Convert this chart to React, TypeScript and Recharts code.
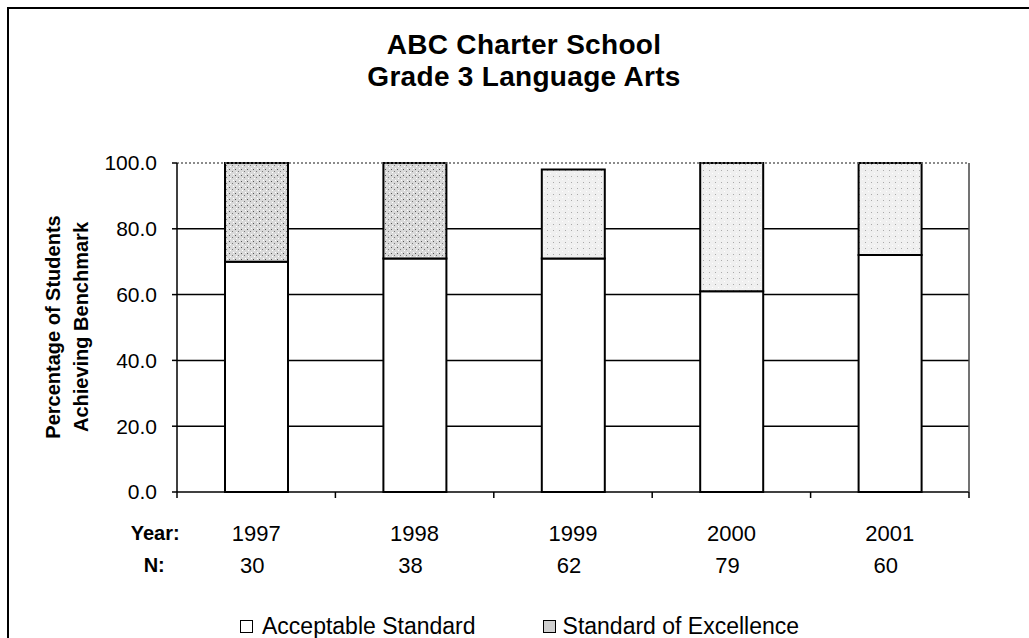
import React from 'react';
import { BarChart, Bar, XAxis, YAxis, CartesianGrid, ReferenceLine, Cell } from 'recharts';

// values
const years = ['1997', '1998', '1999', '2000', '2001'];
const nValues = [30, 38, 62, 79, 60];
const acceptable = [70, 71, 71, 61, 72];
const excellence = [30, 29, 27, 39, 28];
const yTicks = [0, 20, 40, 60, 80, 100];
const gridValues = [20, 40, 60, 80];

const FONT = '"Liberation Sans", Arial, sans-serif';

const data = years.map((year, i) => ({
  year,
  n: nValues[i],
  acceptable: acceptable[i],
  excellence: excellence[i],
}));

const YearTick = (props: any) => {
  const { x, y, payload, index } = props;
  const half = payload && payload.offset ? payload.offset : 79.2;
  const isLast = index === years.length - 1;
  return (
    <g>
      <line x1={x - half} y1={y} x2={x - half} y2={y + 6} stroke="#000" strokeWidth={1.5} />
      {isLast && <line x1={x + half} y1={y} x2={x + half} y2={y + 6} stroke="#000" strokeWidth={1.5} />}
      {index === 0 && (
        <>
          <text x={x - 101} y={y + 41} textAnchor="middle" dominantBaseline="central" fontFamily={FONT} fontWeight="bold" fontSize={20} fill="#000">
            Year:
          </text>
          <text x={x - 102} y={y + 73} textAnchor="middle" dominantBaseline="central" fontFamily={FONT} fontWeight="bold" fontSize={20} fill="#000">
            N:
          </text>
        </>
      )}
      <text x={x} y={y + 41} textAnchor="middle" dominantBaseline="central" fontFamily={FONT} fontSize={22} fill="#000">
        {payload.value}
      </text>
      <text x={x - 4} y={y + 73} textAnchor="middle" dominantBaseline="central" fontFamily={FONT} fontSize={22} fill="#000">
        {nValues[index]}
      </text>
    </g>
  );
};

const App: React.FC = () => {
  return (
    <div style={{ position: 'absolute', left: 0, top: 0, width: 1029, height: 638, background: '#fff', fontFamily: FONT, overflow: 'hidden' }}>
      {/* scanned frame: top and left edges */}
      <div style={{ position: 'absolute', left: 7, top: 7, width: 1022, height: 631, borderTop: '2px solid #000', borderLeft: '2px solid #000' }} />

      <div style={{ position: 'absolute', left: 0, width: 1048, top: 29, textAlign: 'center', fontWeight: 'bold', fontSize: 28, letterSpacing: 0.3, lineHeight: '32px', color: '#000' }}>
        ABC Charter School
        <br />
        Grade 3 Language Arts
      </div>

      <div
        style={{
          position: 'absolute',
          left: 67 - 160,
          top: 327 - 28,
          width: 320,
          height: 56,
          transform: 'rotate(-90deg)',
          textAlign: 'center',
          fontWeight: 'bold',
          fontSize: 20,
          lineHeight: '28px',
          color: '#000',
        }}
      >
        Percentage of Students
        <br />
        Achieving Benchmark
      </div>

      <div style={{ position: 'absolute', left: 0, top: 0 }}>
        <BarChart width={1029} height={638} data={data} margin={{ top: 163, right: 59, bottom: 106, left: 107 }}>
          <defs>
            <pattern id="dense" width="6" height="6" patternUnits="userSpaceOnUse">
              <rect width="6" height="6" fill="#d9d9d9" />
              <rect x="1" y="1" width="1" height="1" fill="#555" />
              <rect x="4" y="3" width="1" height="1" fill="#777" />
              <rect x="2" y="4" width="1" height="1" fill="#fff" />
              <rect x="5" y="0" width="1" height="1" fill="#fff" />
            </pattern>
            <pattern id="light" width="6" height="6" patternUnits="userSpaceOnUse">
              <rect width="6" height="6" fill="#f0f0f0" />
              <rect x="1" y="2" width="1" height="1" fill="#aaa" />
              <rect x="4" y="5" width="1" height="1" fill="#fff" />
            </pattern>
          </defs>
          <CartesianGrid horizontal vertical={false} horizontalValues={gridValues} stroke="#000" strokeWidth={1.5} />
          <ReferenceLine y={100} stroke="#666" strokeWidth={1.5} strokeDasharray="2 2" />
          <XAxis
            dataKey="year"
            height={40}
            axisLine={{ stroke: '#000', strokeWidth: 1.5 }}
            tickLine={false}
            tickSize={0}
            tickMargin={0}
            interval={0}
            tick={<YearTick />}
          />
          <YAxis
            domain={[0, 100]}
            ticks={yTicks}
            width={70}
            interval={0}
            tickFormatter={(v: number) => v.toFixed(1)}
            axisLine={{ stroke: '#000', strokeWidth: 1.5 }}
            tickLine={{ stroke: '#000', strokeWidth: 1.5 }}
            tickSize={5}
            tickMargin={15}
            tick={{ fill: '#000', fontSize: 21, fontFamily: FONT }}
          />
          <YAxis yAxisId="r" orientation="right" width={1} tick={false} tickLine={false} axisLine={{ stroke: '#444', strokeWidth: 1.5 }} />
          <Bar dataKey="acceptable" name="Acceptable Standard" stackId="a" fill="#fff" stroke="#000" strokeWidth={2} barSize={63} isAnimationActive={false} />
          <Bar dataKey="excellence" name="Standard of Excellence" stackId="a" stroke="#000" strokeWidth={2} barSize={63} isAnimationActive={false}>
            {data.map((d, i) => (
              <Cell key={d.year} fill={i < 2 ? 'url(#dense)' : 'url(#light)'} />
            ))}
          </Bar>
        </BarChart>
      </div>

      {/* legend */}
      <div style={{ position: 'absolute', left: 240, top: 614, height: 24, display: 'flex', alignItems: 'center', fontSize: 23, color: '#000', lineHeight: '24px' }}>
        <span style={{ width: 11, height: 11, border: '1.5px solid #000', background: '#fff', display: 'inline-block', marginRight: 9 }} />
        <span>Acceptable Standard</span>
        <span style={{ width: 11, height: 11, border: '1.5px solid #000', background: '#cfcfcf', display: 'inline-block', marginLeft: 67, marginRight: 7 }} />
        <span>Standard of Excellence</span>
      </div>
    </div>
  );
};

export default App;
